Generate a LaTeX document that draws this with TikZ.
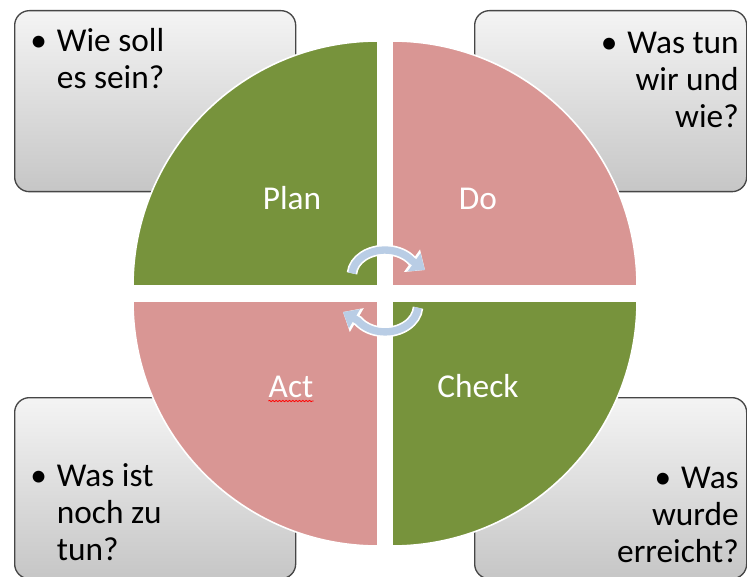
\documentclass[tikz,border=0pt]{standalone}
\usepackage{fontspec}
\setmainfont{Carlito}
\usetikzlibrary{arrows.meta,decorations.pathmorphing}
\definecolor{plangreen}{RGB}{119,147,60}
\definecolor{dopink}{RGB}{217,150,148}
\definecolor{cyclearrow}{RGB}{185,205,229}
\definecolor{boxtop}{RGB}{244,244,244}
\definecolor{boxbottom}{RGB}{198,198,198}
\definecolor{boxline}{RGB}{70,70,70}
\tikzset{>=stealth,
  infobox/.style={rounded corners=11pt, draw=boxline, line width=1pt, top color=boxtop, bottom color=boxbottom, minimum height=135.75pt, anchor=north west},
  infotext/.style={inner sep=0pt, font=\fontsize{25pt}{27.75pt}\selectfont},
  quarter/.style={draw=white, line width=1.2pt},
  phase/.style={inner sep=0pt, text=white, font=\fontsize{25pt}{30pt}\selectfont, anchor=base},
  arrowedge/.style={white, line width=8pt, -{Triangle[width=20pt,length=12pt]}},
  arrowfill/.style={cyclearrow, line width=5.5pt, -{Triangle[width=16pt,length=10pt]}}
}

\begin{document}
\begin{tikzpicture}[x=0.75pt,y=0.75pt]
\useasboundingbox (0,0) rectangle (747,576);

\node[infobox, minimum width=210.75pt] (plan box) at (14,566) {};
\node[infobox, minimum width=204pt] (do box) at (474,566) {};
\node[infobox, minimum width=210.75pt] (act box) at (14,179) {};
\node[infobox, minimum width=204pt] (check box) at (474,179) {};

\node[infotext, align=left, anchor=base west] (plan text) at (30,487) {\makebox[20pt][l]{\textbullet}Wie soll\\\hspace*{20pt}es sein?};
\node[infotext, align=right, anchor=base east] (do text) at (739,448) {\makebox[20pt][l]{\textbullet}Was tun\\wir und\\wie?};
\node[infotext, align=left, anchor=base west] (act text) at (30,16) {\makebox[20pt][l]{\textbullet}Was ist\\\hspace*{20pt}noch zu\\\hspace*{20pt}tun?};
\node[infotext, align=right, anchor=base east] (check text) at (739,14) {\makebox[20pt][l]{\textbullet}Was\\wurde\\erreicht?};

\fill[plangreen, quarter] (378,290) -- ++(-245,0) arc[start angle=180, end angle=90, radius=245] -- cycle;
\fill[dopink, quarter] (392,290) -- ++(0,245) arc[start angle=90, end angle=0, radius=245] -- cycle;
\fill[dopink, quarter] (378,275) -- ++(-245,0) arc[start angle=180, end angle=270, radius=245] -- cycle;
\fill[plangreen, quarter] (392,275) -- ++(245,0) arc[start angle=0, end angle=-90, radius=245] -- cycle;

\node[phase] (plan) at (292,366) {Plan};
\node[phase] (do) at (478,366) {Do};
\node[phase] (act) at (291,179) {Act};
\node[phase] (check) at (478,179) {Check};
\draw[red, line width=0.6pt, decorate, decoration={snake, amplitude=0.5pt, segment length=2.5pt}]
  ([yshift=-3pt]act.base west) -- ([yshift=-3pt]act.base east);

\coordinate (top tip) at (425,306);
\coordinate (bottom tip) at (343,264);
\draw[arrowedge] (352,302.7) arc[start angle=176, end angle=35, x radius=33, y radius=25] -- (top tip);
\draw[arrowfill] (352,302.7) arc[start angle=176, end angle=35, x radius=33, y radius=25] -- (top tip);
\draw[arrowedge] (418,268.3) arc[start angle=-4, end angle=-145, x radius=33, y radius=26] -- (bottom tip);
\draw[arrowfill] (418,268.3) arc[start angle=-4, end angle=-145, x radius=33, y radius=26] -- (bottom tip);
\end{tikzpicture}
\end{document}
